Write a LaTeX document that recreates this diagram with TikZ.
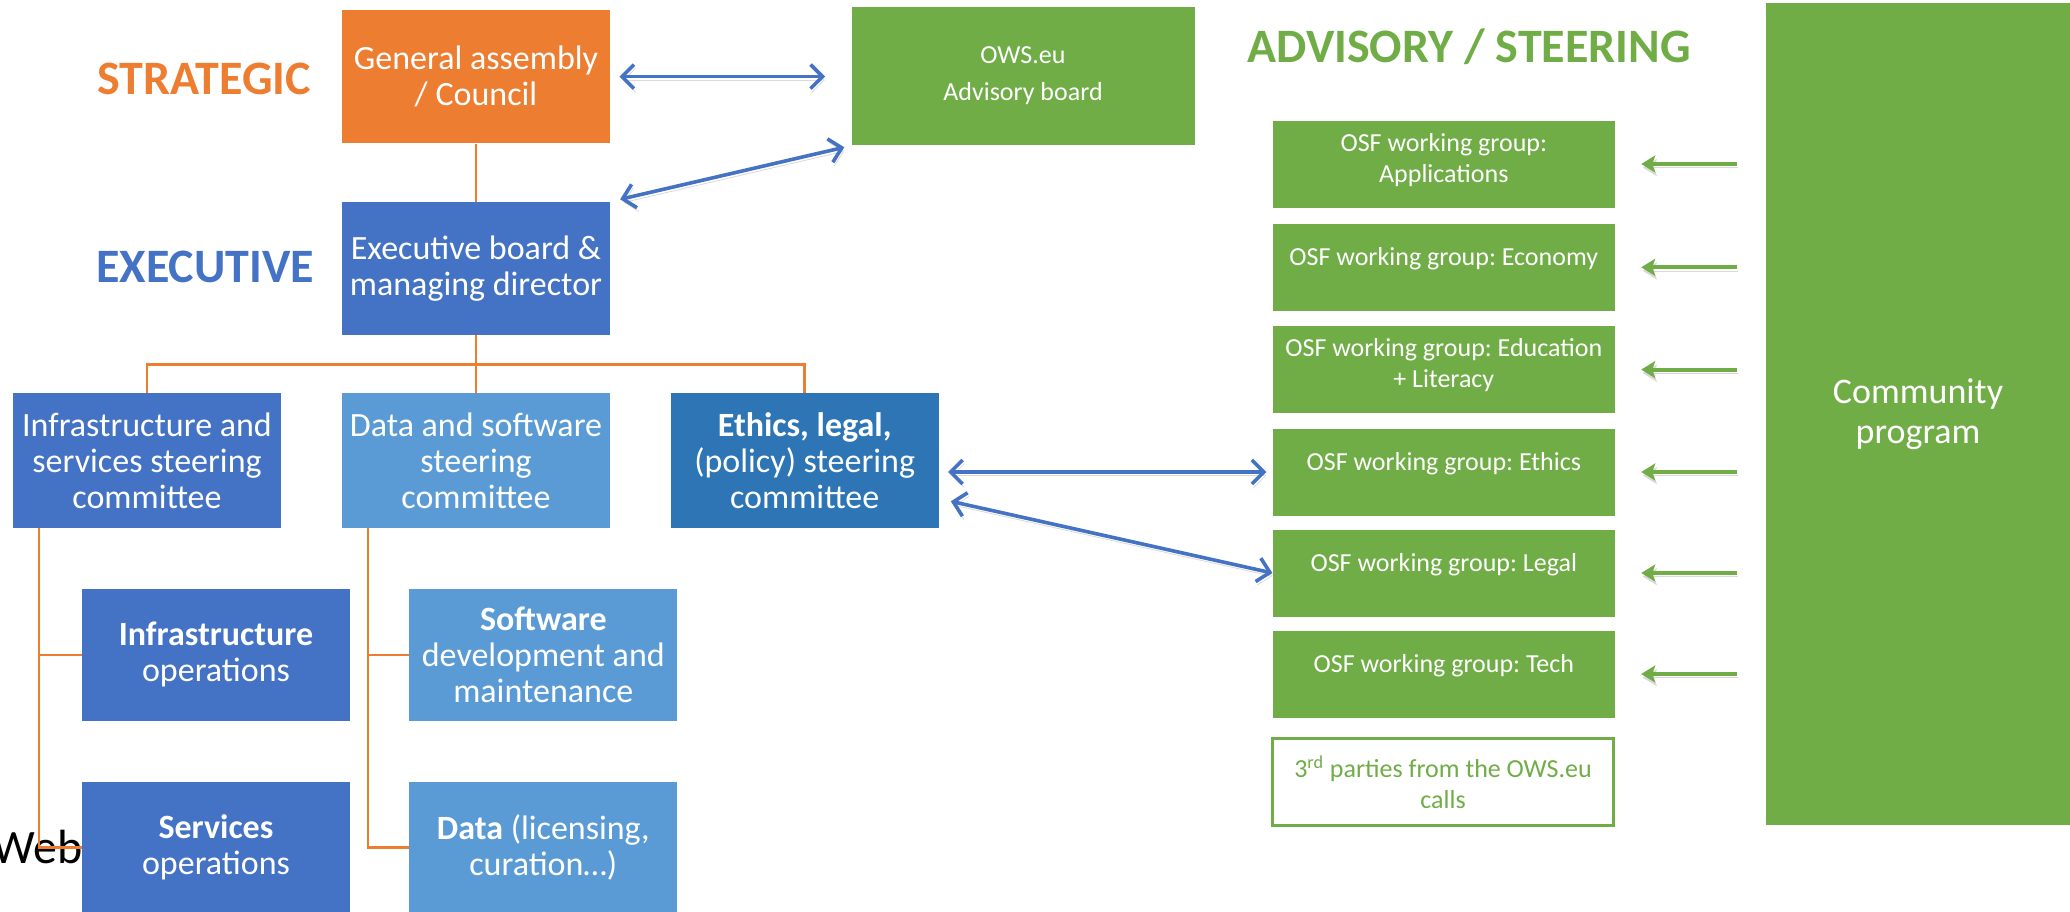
\documentclass[tikz,border=0pt]{standalone}
\usepackage{fontspec}
\setmainfont{Carlito}
\usepackage{tikz}
\usetikzlibrary{arrows,arrows.meta}
\frenchspacing

\definecolor{accorange}{HTML}{ED7D31}
\definecolor{accblue}{HTML}{4472C4}
\definecolor{lightblue}{HTML}{5B9BD5}
\definecolor{midblue}{HTML}{2E75B6}
\definecolor{accgreen}{HTML}{70AD47}

\begin{document}
\begin{tikzpicture}[x=0.5pt, y=-0.5pt, every node/.style={inner sep=1pt, align=center},
                    orgbox/.style={rectangle, fill=#1, text=white, minimum width=134pt, minimum height=66.5pt,
                                   font=\fontsize{17}{18}\selectfont},
                    wg/.style={orgbox=accgreen, minimum width=171pt, minimum height=43.5pt, font=\fontsize{13}{15.5}\selectfont},
                    tierlabel/.style={text=#1, font=\fontsize{24}{24}\selectfont\bfseries},
                    orgline/.style={draw=accorange, line width=1.3pt},
                    softshadow/.style={preaction={draw=black!15, transform canvas={xshift=0.8pt, yshift=-1.8pt}}},
                    barrow/.style={draw=accblue, line width=1.8pt, softshadow,
                                   {Straight Barb[length=6pt,width=12pt]}-{Straight Barb[length=6pt,width=12pt]}},
                    garrow/.style={draw=accgreen, line width=2pt, softshadow, -{Stealth[length=7pt,width=8.5pt,inset=1.5pt]},
                                   shorten <=14.5pt, shorten >=13pt}]
\useasboundingbox (0,0) rectangle (2070,911);

\node[tierlabel=accorange] (strat) at (204,79) {STRATEGIC};
\node[tierlabel=accblue] (execlbl) at (205,267) {EXECUTIVE};
\node[tierlabel=accgreen] (advlbl) at (1469,47) {ADVISORY / STEERING};
\node[anchor=base west, inner sep=0pt, font=\fontsize{24}{24}\selectfont] (web) at (-8,863) {Web};

\node[orgbox=accorange] (ga) at (476,76.6) {General assembly\\/ Council};
\node[orgbox=accgreen, minimum width=171.5pt, minimum height=69.3pt, font=\fontsize{13}{18.5}\selectfont] (ows) at (1023,76) {OWS.eu\\Advisory board};
\node[orgbox=accblue] (exec) at (476,268.5) {Executive board \&\\managing director};

\node[orgbox=accblue, minimum height=67.3pt] (isc) at (147,460.7) {Infrastructure and\\services steering\\committee};
\node[orgbox=lightblue, minimum height=67.3pt] (dsc) at (476,460.7) {Data and software\\steering\\committee};
\node[orgbox=midblue, minimum height=67.3pt] (esc) at (804.7,460.7) {\textbf{Ethics, legal,}\\(policy) steering\\committee};

\node[orgbox=accblue, minimum height=66pt] (iop) at (216,654.8) {\textbf{Infrastructure}\\operations};
\node[orgbox=accblue, minimum height=66pt] (sop) at (216,847.6) {\textbf{Services}\\operations};
\node[orgbox=lightblue, minimum height=66pt] (sdm) at (543.3,654.8) {\textbf{Software}\\development and\\maintenance};
\node[orgbox=lightblue, minimum height=66pt] (dat) at (543.3,847.6) {\textbf{Data} (licensing,\\curation\dots)};

\node[wg, text depth=6.5pt] (wg1) at (1443.8,164) {OSF working group:\\Applications};
\node[wg, text depth=10.5pt] (wg2) at (1443.8,267.3) {OSF working group: Economy};
\node[wg, text depth=6.5pt] (wg3) at (1443.8,369.6) {OSF working group: Education\\+ Literacy};
\node[wg, text depth=10.5pt] (wg4) at (1443.8,472) {OSF working group: Ethics};
\node[wg, text depth=10.5pt] (wg5) at (1443.8,573) {OSF working group: Legal};
\node[wg, text depth=10.5pt] (wg6) at (1443.8,674) {OSF working group: Tech};
\node[wg, fill=white, draw=accgreen, line width=1.65pt, text=accgreen, minimum width=170.3pt, minimum height=43.3pt] (third) at (1443,782) {3\textsuperscript{rd} parties from the OWS.eu\\calls};

\node[orgbox=accgreen, minimum width=151.8pt, minimum height=411.2pt, font=\fontsize{18}{20}\selectfont] (cp) at (1918,414) {Community\\program};

\coordinate (bus) at (476,364.4);
\coordinate (itrunk) at ([xshift=13.2pt]isc.south west);
\coordinate (dtrunk) at ([xshift=13.2pt]dsc.south west);

\draw[orgline] (ga) -- (exec);
\draw[orgline] (exec) -- (dsc);
\draw[orgline] (isc) |- (bus) -| (esc);
\draw[orgline] (itrunk) |- (sop);
\draw[orgline] (itrunk |- iop) -- (iop);
\draw[orgline] (dtrunk) |- (dat);
\draw[orgline] (dtrunk |- sdm) -- (sdm);

\path (ga.east) edge[barrow, shorten <=4.5pt, shorten >=13pt] (ga.east -| ows.west)
      (exec.north east) edge[barrow, shorten <=5pt, shorten >=3.5pt] (ows.south west)
      (wg4.west -| esc.east) edge[barrow, shorten <=4.5pt, shorten >=3pt] (wg4.west)
      ([yshift=-19pt]esc.east) edge[barrow, shorten <=6pt] (wg5.west);

\foreach \i in {1,...,6}
  \path (cp.west |- wg\i.east) edge[garrow] (wg\i.east);
\end{tikzpicture}
\end{document}
